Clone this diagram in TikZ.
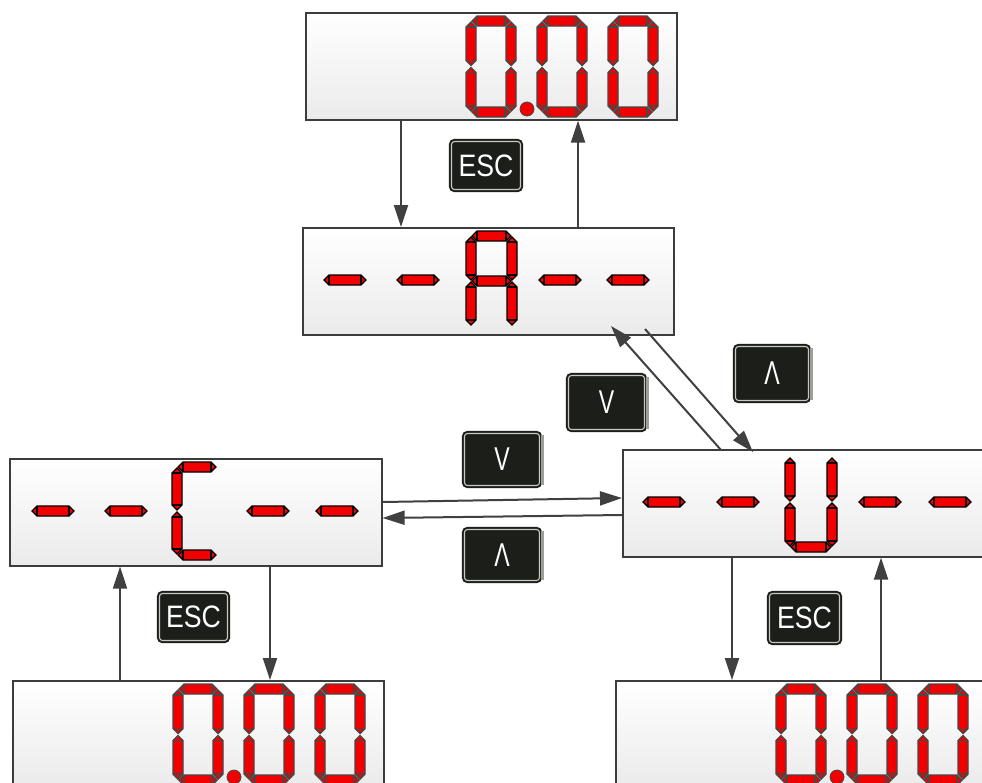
\documentclass[tikz,border=0pt]{standalone}
\usepackage{fontspec}
\newfontfamily\keyfont{Liberation Sans}
\usetikzlibrary{arrows.meta,calc}

\definecolor{segred}{HTML}{F20000}
\definecolor{segline}{HTML}{474747}
\definecolor{boxline}{HTML}{3C3C3C}
\definecolor{wirec}{HTML}{404040}
\definecolor{keyfill}{HTML}{1C1E1A}
\definecolor{keyring}{HTML}{C9C9C2}
\definecolor{keyside}{HTML}{9E9E98}

\tikzset{
  panel/.style={rectangle, draw=boxline, line width=1.6pt, top color=white,
    bottom color=black!8, inner sep=0pt, anchor=north west,
    minimum height=107pt, minimum width=371pt},
  segdim/.style={fill=segred, draw=segline, line width=1.4pt},
  segdash/.style={fill=segred, draw=black, line width=1.2pt},
  wire/.style={draw=wirec, line width=2pt, -{Triangle[length=22pt,width=14pt]}},
  key/.style={rectangle, rounded corners=3pt, fill=keyfill, draw=keyfill,
    double=keyring, double distance=1.1pt, line width=2pt, text=white,
    inner sep=0pt, font=\keyfont\fontsize{31}{31}\selectfont},
  arrowkey/.style={key, font=\keyfont\fontsize{33}{33}\selectfont},
}

% one segment: horizontal (x1, x2 tips, y) and vertical (x, y1, y2 tips)
\newcommand\segH[4][]{%
  \filldraw[#1] (#2,#4) -- ({#2+5},{#4-5}) -- ({#3-5},{#4-5}) -- (#3,#4)
    -- ({#3-5},{#4+5}) -- ({#2+5},{#4+5}) -- cycle;
  \draw[#1,fill=none] ({#2+5},{#4-5}) -- ({#2+5},{#4+5})
    ({#3-5},{#4-5}) -- ({#3-5},{#4+5});}
\newcommand\segV[4][]{%
  \filldraw[#1] (#2,#3) -- ({#2+5},{#3+5}) -- ({#2+5},{#4-5}) -- (#2,#4)
    -- ({#2-5},{#4-5}) -- ({#2-5},{#3+5}) -- cycle;
  \draw[#1,fill=none] ({#2-5},{#3+5}) -- ({#2+5},{#3+5})
    ({#2-5},{#4-5}) -- ({#2+5},{#4-5});}

% the seven segments of a digit: style, x0, y0, width, height
\newcommand\sgA[5]{\segH[#1]{#2+6}{#2+#4-6}{#3+5}}
\newcommand\sgG[5]{\segH[#1]{#2+6}{#2+#4-6}{#3+#5/2}}
\newcommand\sgD[5]{\segH[#1]{#2+6}{#2+#4-6}{#3+#5-5}}
\newcommand\sgF[5]{\segV[#1]{#2+5}{#3+6}{#3+#5/2-1}}
\newcommand\sgB[5]{\segV[#1]{#2+#4-5}{#3+6}{#3+#5/2-1}}
\newcommand\sgE[5]{\segV[#1]{#2+5}{#3+#5/2+1}{#3+#5-6}}
\newcommand\sgC[5]{\segV[#1]{#2+#4-5}{#3+#5/2+1}{#3+#5-6}}

\newcommand\digZero[2]{%
  \sgA{segdim}{#1}{#2}{50}{101}\sgB{segdim}{#1}{#2}{50}{101}%
  \sgC{segdim}{#1}{#2}{50}{101}\sgD{segdim}{#1}{#2}{50}{101}%
  \sgE{segdim}{#1}{#2}{50}{101}\sgF{segdim}{#1}{#2}{50}{101}}
\newcommand\readout[2]{% 0.00 starting at x0, y0
  \digZero{#1}{#2}\digZero{#1+71}{#2}\digZero{#1+142}{#2}
  \filldraw[fill=segred, draw=segline, line width=0.8pt] ({#1+61},{#2+93}) circle[radius=7pt];}
\newcommand\dashes[5]{% y, then left tips of the four dashes
  \segH[segdash]{#2}{#2+42}{#1}\segH[segdash]{#3}{#3+42}{#1}
  \segH[segdash]{#4}{#4+42}{#1}\segH[segdash]{#5}{#5+42}{#1}}

\begin{document}
\begin{tikzpicture}[x=1pt, y=-1pt]
\useasboundingbox (0,0) rectangle (982,782);
\clip (0,0) rectangle (982,782);
\fill[white] (0,0) rectangle (982,782);

% display panels
\node[panel] (top) at (305,12) {};
\node[panel] (dA) at (302,227) {};
\node[panel, minimum width=372pt] (dC) at (9,458) {};
\node[panel] (dU) at (622,449) {};
\node[panel] (botL) at (12,680) {};
\node[panel] (botR) at (615,680) {};

% readings
\readout{466}{16}
\readout{173}{684}
\readout{776}{684}

% menu display A
\dashes{280}{324}{397}{539}{607}
\sgA{segdash}{466}{231}{51}{100}\sgB{segdash}{466}{231}{51}{100}
\sgC{segdash}{466}{231}{51}{100}\sgE{segdash}{466}{231}{51}{100}
\sgF{segdash}{466}{231}{51}{100}\sgG{segdash}{466}{231}{51}{100}

% menu display C
\dashes{511}{32}{105}{247}{316}
\sgA{segdash}{172}{462}{50}{98}\sgD{segdash}{172}{462}{50}{98}
\sgE{segdash}{172}{462}{50}{98}\sgF{segdash}{172}{462}{50}{98}

% menu display U
\dashes{502}{643}{717}{859}{929}
\sgB{segdash}{785}{452}{52}{100}\sgC{segdash}{785}{452}{52}{100}
\sgD{segdash}{785}{452}{52}{100}\sgE{segdash}{785}{452}{52}{100}
\sgF{segdash}{785}{452}{52}{100}

% keys
\node[key, minimum width=69pt, minimum height=48pt] (esc1) at (486,165.5) {\scalebox{0.86}[1]{ESC}};
\node[key, minimum width=68pt, minimum height=47pt] (esc2) at (193.5,617) {\scalebox{0.86}[1]{ESC}};
\node[key, minimum width=70pt, minimum height=49pt] (esc3) at (804.5,618) {\scalebox{0.86}[1]{ESC}};
\node[arrowkey, minimum width=76pt, minimum height=54pt] (dn1) at (606.5,402.5) {\scalebox{0.7}[1]{V}};
\node[arrowkey, minimum width=73pt, minimum height=54pt] (up1) at (772,373.5) {\scalebox{0.7}[1]{Λ}};
\node[arrowkey, minimum width=75pt, minimum height=52pt] (dn2) at (502,459.5) {\scalebox{0.7}[1]{V}};
\node[arrowkey, minimum width=75pt, minimum height=51pt] (up2) at (502,555) {\scalebox{0.7}[1]{Λ}};
\foreach \k in {dn1,up1,dn2,up2}{
  \fill[keyside] ([xshift=0.7pt,yshift=-2pt]\k.north east) rectangle ([xshift=3pt,yshift=2pt]\k.south east);
}

% connectors
\draw[wire] (401,0 |- top.south) -- (401,0 |- dA.north);
\draw[wire] (578,0 |- dA.north) -- (578,0 |- top.south);

\coordinate (uA) at (721,450);
\coordinate (aU) at (611,326);
\coordinate (aB) at (645,329);
\coordinate (uB) at (753,452);
\draw[wire] (uA) -- (aU);
\draw[wire] (aB) -- (uB);

\draw[wire] (dC.east |- 0,502) -- (dU.west |- 0,498);
\draw[wire] (dU.west |- 0,515) -- (dC.east |- 0,518);

\draw[wire] (120,0 |- botL.north) -- (120,0 |- dC.south);
\draw[wire] (270,0 |- dC.south) -- (270,0 |- botL.north);

\draw[wire] (732,0 |- dU.south) -- (732,0 |- botR.north);
\draw[wire] (881,0 |- botR.north) -- (881,0 |- dU.south);
\end{tikzpicture}
\end{document}
